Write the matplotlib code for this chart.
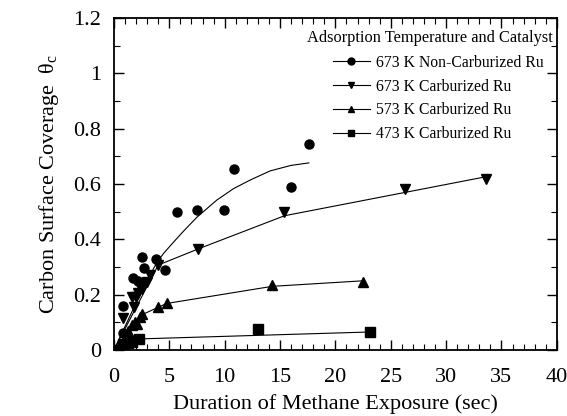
import matplotlib
matplotlib.use("Agg")
import matplotlib.pyplot as plt
from matplotlib.lines import Line2D
from matplotlib.ticker import MultipleLocator

plt.rcParams['font.family'] = ['Liberation Serif', 'DejaVu Serif']
plt.rcParams['mathtext.fontset'] = 'custom'
plt.rcParams['mathtext.rm'] = 'Liberation Serif'
plt.rcParams['mathtext.it'] = 'Liberation Serif:italic'

# 673 K Non-Carburized Ru (circles)
nc_x = [0, 0.8, 0.8, 1.7, 2.2, 2.4, 2.5, 2.7, 3.8, 4.6, 5.7, 7.5, 9.9, 10.8, 16.0, 17.6]
nc_y = [0, 0.06, 0.16, 0.26, 0.25, 0.24, 0.335, 0.295, 0.33, 0.29, 0.50, 0.505, 0.505, 0.655, 0.59, 0.745]
nc_fit_x = [0, 1.0, 2.0, 3.0, 3.85, 4.5, 5.5, 6.3, 7.5, 9.3, 10.8, 12.3, 14.1, 16.0, 17.6]
nc_fit_y = [0, 0.085, 0.17, 0.25, 0.315, 0.35, 0.395, 0.43, 0.48, 0.542, 0.583, 0.614, 0.647, 0.667, 0.676]

# 673 K Carburized Ru (down triangles)
c673_x = [0, 0.8, 1.6, 1.8, 2.0, 2.2, 2.5, 2.95, 3.25, 4.0, 7.6, 15.4, 26.3, 33.6]
c673_y = [0, 0.114, 0.193, 0.157, 0.193, 0.205, 0.22, 0.247, 0.271, 0.307, 0.365, 0.497, 0.582, 0.618]
c673_fit_x = [0, 4.0, 7.6, 15.4, 33.6]
c673_fit_y = [0, 0.307, 0.365, 0.485, 0.626]

# 573 K Carburized Ru (up triangles)
c573_x = [0, 1.3, 1.6, 1.9, 2.1, 2.35, 2.5, 4.0, 4.75, 14.3, 22.5]
c573_y = [0, 0.07, 0.09, 0.10, 0.095, 0.12, 0.13, 0.157, 0.169, 0.235, 0.247]
c573_fit_x = [0, 2.4, 4.75, 14.3, 22.5]
c573_fit_y = [0, 0.125, 0.168, 0.23, 0.25]

# 473 K Carburized Ru (squares)
c473_x = [0, 0.85, 1.3, 1.6, 2.3, 13.0, 23.1]
c473_y = [0, 0.022, 0.025, 0.028, 0.04, 0.076, 0.064]
c473_fit_x = [0, 2.3, 23.1]
c473_fit_y = [0, 0.04, 0.065]

labels = ['673 K Non-Carburized Ru', '673 K Carburized Ru',
          '573 K Carburized Ru', '473 K Carburized Ru']
legend_title = 'Adsorption Temperature and Catalyst'
markers = ['o', 'v', '^', 's']

x_ticks = [0, 5, 10, 15, 20, 25, 30, 35, 40]
x_tick_labels = ['0', '5', '10', '15', '20', '25', '30', '35', '40']
y_ticks = [0, 0.2, 0.4, 0.6, 0.8, 1.0, 1.2]
y_tick_labels = ['0', '0.2', '0.4', '0.6', '0.8', '1', '1.2']

fig = plt.figure(figsize=(5.67, 4.16), dpi=100)
ax = fig.add_axes([0.201, 0.1587, 0.781, 0.7983])

series = [(nc_x, nc_y, nc_fit_x, nc_fit_y),
          (c673_x, c673_y, c673_fit_x, c673_fit_y),
          (c573_x, c573_y, c573_fit_x, c573_fit_y),
          (c473_x, c473_y, c473_fit_x, c473_fit_y)]

for (sx, sy, fx, fy), m in zip(series, markers):
    ax.plot(fx, fy, color='black', lw=0.8)
    ax.plot(sx, sy, linestyle='none', marker=m, color='black', ms=6.5)

ax.set_xlim(0, 40)
ax.set_ylim(0, 1.2)
ax.set_xticks(x_ticks)
ax.set_xticklabels(x_tick_labels)
ax.set_yticks(y_ticks)
ax.set_yticklabels(y_tick_labels)
ax.xaxis.set_minor_locator(MultipleLocator(1))
ax.yaxis.set_minor_locator(MultipleLocator(0.1))
ax.tick_params(which='both', direction='in', top=True, right=True, labelsize=16)
ax.tick_params(which='major', length=7, width=1)
ax.tick_params(which='minor', length=4, width=0.8)
ax.tick_params(axis='x', pad=13)
ax.tick_params(axis='y', pad=9)
for sp in ax.spines.values():
    sp.set_linewidth(1.3)

ax.set_xlabel('Duration of Methane Exposure (sec)', fontsize=16, labelpad=5)
ax.set_ylabel(r'Carbon Surface Coverage  $\mathregular{\theta_c}$', fontsize=16, labelpad=9)

ax.text(0.4357, 0.9398, legend_title, transform=ax.transAxes, ha='left', va='center',
        fontsize=11.8)

handles = [Line2D([0], [0], color='black', lw=0.8, marker=m, ms=5) for m in markers]
leg = ax.legend(handles, labels, loc='upper left', bbox_to_anchor=(0.494, 0.889),
                frameon=False, fontsize=11.3, numpoints=1, handlelength=2.36,
                handletextpad=0.38, labelspacing=0.50, borderpad=0, borderaxespad=0)

fig.savefig('out.png', dpi=100)
